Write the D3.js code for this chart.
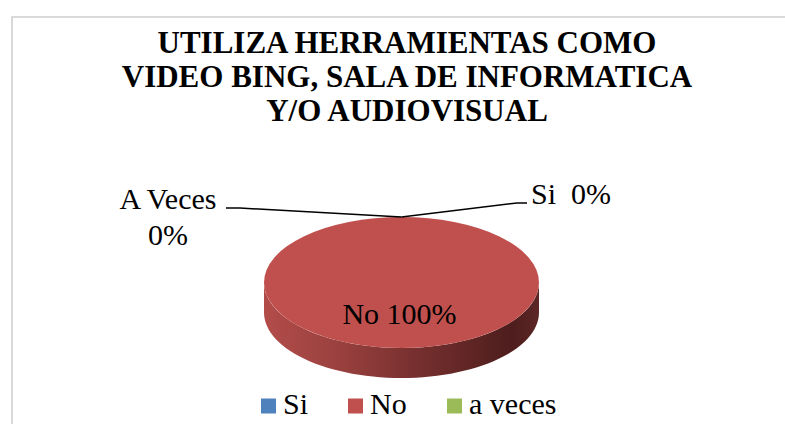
<!DOCTYPE html>
<html>
<head>
<meta charset="utf-8">
<script src="https://d3js.org/d3.v7.min.js"></script>
</head>
<body style="margin:0;background:#fff">
<script>
// data
var titleLines = ["UTILIZA HERRAMIENTAS COMO", "VIDEO BING, SALA DE INFORMATICA", "Y/O AUDIOVISUAL"];
var categories = ["Si", "No", "a veces"];
var values = [0, 100, 0];
var labelNames = ["Si", "No", "A Veces"];
var colors = ["#4f81bd", "#c0504d", "#9bbb59"];

var width = 785, height = 424;
var cx = 401.5, cy = 282.5, rx = 137.5, ry = 65.5, depth = 30;
var serif = "Nimbus Roman";

var svg = d3.select("body").append("svg")
    .attr("width", width)
    .attr("height", height)
    .style("display", "block");

// title
svg.selectAll("text.title")
    .data(titleLines)
  .enter().append("text")
    .attr("class", "title")
    .attr("x", 407)
    .attr("y", function (d, i) { return 53 + i * 34; })
    .attr("text-anchor", "middle")
    .attr("font-family", serif)
    .attr("font-size", 31)
    .attr("font-weight", "bold")
    .text(function (d) { return d; });

// chart frame (right and bottom edges fall outside the picture)
svg.append("rect")
    .attr("x", 12).attr("y", 17)
    .attr("width", 820).attr("height", 430)
    .attr("fill", "none")
    .attr("stroke", "#d9d9d9")
    .attr("stroke-width", 2);

var total = d3.sum(values);
var pct = d3.format(".0%");

var pie = d3.pie().sort(null).value(function (d) { return d; });
var arcs = pie(values);

// point on the ellipse for a pie angle
function ept(a, dy) {
  return [cx + rx * Math.sin(a), cy - ry * Math.cos(a) + (dy || 0)];
}

// side gradient
var defs = svg.append("defs");
var grad = defs.append("linearGradient")
    .attr("id", "side")
    .attr("gradientUnits", "userSpaceOnUse")
    .attr("x1", cx - rx).attr("x2", cx + rx)
    .attr("y1", 0).attr("y2", 0);
[[0, "#b24c49"], [0.25, "#9c4240"], [0.55, "#77302f"], [0.9, "#4e1d1d"], [1, "#5c2625"]]
  .forEach(function (s) {
    grad.append("stop").attr("offset", s[0]).attr("stop-color", s[1]);
  });

// visible side wall of each slice (front half, angles pi/2 .. 3pi/2)
arcs.forEach(function (d, i) {
  var a0 = Math.max(d.startAngle, Math.PI / 2);
  var a1 = Math.min(d.endAngle, Math.PI * 3 / 2);
  if (a1 <= a0) return;
  var n = 60, top = [], bot = [];
  for (var k = 0; k <= n; k++) {
    var a = a0 + (a1 - a0) * k / n;
    top.push(ept(a));
    bot.push(ept(a, depth));
  }
  var pts = top.concat(bot.reverse());
  svg.append("path")
      .attr("d", d3.line()(pts) + "Z")
      .attr("fill", "url(#side)");
});

// top face
var arc = d3.arc().innerRadius(0).outerRadius(rx);
svg.append("g")
    .attr("transform", "translate(" + cx + "," + cy + ") scale(1," + (ry / rx) + ")")
  .selectAll("path")
    .data(arcs)
  .enter().append("path")
    .attr("d", arc)
    .attr("fill", function (d, i) { return colors[i]; });

// label layout per category: text position, elbow and end of the leader line
var labelPos = {
  "Si": { x: 531, y: 204, anchor: "start", elbow: 517, end: 527, ly: 203 },
  "a veces": { x: 168, y: 209, anchor: "middle", elbow: 240, end: 226, ly: 208 }
};

arcs.forEach(function (d, i) {
  var txtPct = pct(values[i] / total);
  var mid = (d.startAngle + d.endAngle) / 2;
  if (values[i] / total > 0.5) {
    svg.append("text")
      .attr("x", cx - 2)
      .attr("y", cy + 41)
      .attr("text-anchor", "middle")
      .attr("font-family", serif)
      .attr("font-size", 30)
      .text(labelNames[i] + " " + txtPct);
    return;
  }
  var p = labelPos[categories[i]];
  svg.append("path")
      .attr("d", d3.line()([ept(mid), [p.elbow, p.ly], [p.end, p.ly]]))
      .attr("fill", "none")
      .attr("stroke", "#000")
      .attr("stroke-width", 1.5);
  if (p.anchor === "start") {
    svg.append("text")
      .attr("x", p.x).attr("y", p.y)
      .attr("font-family", serif)
      .attr("font-size", 30)
      .text(labelNames[i] + "\u00a0 " + txtPct);
  } else {
    [labelNames[i], txtPct].forEach(function (s, j) {
      svg.append("text")
        .attr("x", p.x).attr("y", p.y + j * 36)
        .attr("text-anchor", "middle")
        .attr("font-family", serif)
        .attr("font-size", 30)
        .text(s);
    });
  }
});

// legend
var legX = d3.scaleOrdinal(categories, [261, 348, 447]);
svg.selectAll("rect.leg")
    .data(categories)
  .enter().append("rect")
    .attr("class", "leg")
    .attr("x", function (d) { return legX(d); })
    .attr("y", 398.5)
    .attr("width", 15).attr("height", 15)
    .attr("fill", function (d, i) { return colors[i]; });
svg.selectAll("text.leg")
    .data(categories)
  .enter().append("text")
    .attr("class", "leg")
    .attr("x", function (d) { return legX(d) + 22; })
    .attr("y", 414)
    .attr("font-family", serif)
    .attr("font-size", 30)
    .text(function (d) { return d; });
</script>
</body>
</html>
